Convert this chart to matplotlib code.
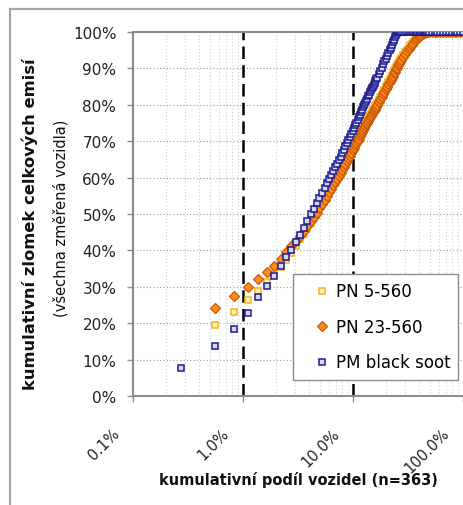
import matplotlib
matplotlib.use("Agg")
import matplotlib.pyplot as plt
from matplotlib.ticker import FixedLocator, NullFormatter, LogLocator
from matplotlib.transforms import ScaledTranslation
from matplotlib.patches import Rectangle

# ---------------- data ----------------
n_vehicles = 363

# vehicle rank (sorted by emission, descending) at which values were read
rank_pm = (list(range(1, 61)) + list(range(62, 101, 2)) + list(range(104, 173, 4))
           + [180, 190, 200, 212, 225, 240, 255, 270, 287, 305, 323, 342, 363])
rank_pn = rank_pm[1:]

pm_black_soot = [
    7.7, 13.7, 18.4, 22.8, 27.2, 30.2, 33.0, 35.7, 38.1, 40.1,
    42.2, 44.2, 46.2, 48.1, 49.9, 51.5, 53.0, 54.5, 55.9, 57.1,
    58.4, 59.6, 60.7, 61.7, 62.8, 63.8, 64.8, 65.7, 66.7, 67.7,
    68.6, 69.5, 70.3, 71.2, 72.1, 72.9, 73.6, 74.4, 75.1, 75.9,
    76.6, 77.2, 78.0, 78.6, 79.3, 79.9, 80.5, 81.1, 81.7, 82.3,
    82.8, 83.4, 84.0, 84.5, 85.0, 85.5, 86.1, 86.5, 87.0, 87.5,
    # 62..100 step 2
    88.5, 89.4, 90.2, 91.1, 92.0, 92.7, 93.5, 94.3, 95.0, 95.7,
    96.5, 97.2, 97.8, 98.5, 99.1, 99.7, 100, 100, 100, 100,
    # 104..172 step 4
    100, 100, 100, 100, 100, 100, 100, 100, 100, 100,
    100, 100, 100, 100, 100, 100, 100, 100,
    # tail
    100, 100, 100, 100, 100, 100, 100, 100, 100, 100, 100, 100, 100,
]

pn_23_560 = [
    24.2, 27.5, 29.9, 32.1, 34.1, 35.7, 37.6, 39.6, 41.2,
    42.6, 44.0, 45.4, 46.8, 48.1, 49.3, 50.4, 51.6, 52.8, 53.9,
    54.9, 56.0, 56.9, 57.9, 58.8, 59.7, 60.5, 61.3, 62.1, 62.9,
    63.7, 64.5, 65.3, 66.0, 66.8, 67.5, 68.2, 68.9, 69.5, 70.1,
    70.7, 71.3, 71.9, 72.5, 73.0, 73.6, 74.1, 74.6, 75.1, 75.6,
    76.1, 76.6, 77.0, 77.4, 77.9, 78.3, 78.7, 79.1, 79.5, 79.9,
    # 62..100 step 2
    80.7, 81.5, 82.2, 82.9, 83.6, 84.3, 84.9, 85.6, 86.2, 86.8,
    87.4, 88.0, 88.6, 89.1, 89.7, 90.2, 90.8, 91.3, 91.8, 92.3,
    # 104..172 step 4
    93.1, 93.9, 94.7, 95.3, 95.9, 96.5, 97.0, 97.5, 98.0, 98.4,
    98.7, 99.0, 99.3, 99.5, 99.7, 99.8, 99.9, 100,
    # tail
    100, 100, 100, 100, 100, 100, 100, 100, 100, 100, 100, 100, 100,
]

pn_5_560 = [
    19.5, 23.1, 26.4, 28.8, 31.3, 33.4, 35.5, 37.5, 39.4,
    41.2, 43.0, 44.6, 46.1, 47.5, 48.9, 50.2, 51.5, 52.7, 53.9,
    55.5, 56.6, 57.5, 58.5, 59.4, 60.3, 61.1, 61.9, 62.7, 63.5,
    64.3, 65.1, 65.9, 66.6, 67.4, 68.1, 68.8, 69.5, 70.1, 70.7,
    71.3, 71.9, 72.5, 73.1, 73.6, 74.2, 74.7, 75.2, 75.7, 76.2,
    76.7, 77.2, 77.6, 78.0, 78.5, 78.9, 79.3, 79.7, 80.1, 80.5,
    # 62..100 step 2
    81.3, 82.1, 82.8, 83.5, 84.2, 84.9, 85.5, 86.2, 86.8, 87.4,
    88.0, 88.6, 89.2, 89.7, 90.3, 90.8, 91.3, 91.8, 92.3, 92.8,
    # 104..172 step 4
    93.6, 94.4, 95.1, 95.7, 96.3, 96.8, 97.3, 97.8, 98.2, 98.6,
    98.9, 99.2, 99.4, 99.6, 99.8, 99.9, 100, 100,
    # tail
    100, 100, 100, 100, 100, 100, 100, 100, 100, 100, 100, 100, 100,
]

series_labels = ["PN 5-560", "PN 23-560", "PM black soot"]
x_ticks = [0.1, 1, 10, 100]
x_tick_labels = ["0.1%", "1.0%", "10.0%", "100.0%"]
y_ticks = list(range(0, 101, 10))
y_tick_labels = [f"{v}%" for v in y_ticks]
ref_lines = [1, 10]

share_pm = [r / n_vehicles * 100 for r in rank_pm]
share_pn = [r / n_vehicles * 100 for r in rank_pn]

# ---------------- figure ----------------
W, H = 463, 506
fig = plt.figure(figsize=(W / 100, H / 100), dpi=100)
fig.patch.set_facecolor("white")
# chart-area border
fig.patches.append(Rectangle((10 / W, -0.05), 1.2, (H - 10) / H + 0.05,
                             transform=fig.transFigure, fill=False,
                             edgecolor="#a6a6a6", linewidth=1.6))

ax = fig.add_axes([133 / W, 109 / H, 330 / W, 364 / H])
ax.set_xscale("log")
ax.set_xlim(0.1, 100)
ax.set_ylim(0, 100)

# gridlines
ax.xaxis.set_minor_locator(LogLocator(base=10, subs=range(2, 10)))
ax.xaxis.set_minor_formatter(NullFormatter())
ax.grid(which="minor", axis="x", linestyle=(0, (1, 2)), color="#cfcfcf", linewidth=0.8)
ax.grid(which="major", axis="y", linestyle=(0, (1, 2)), color="#9a9a9a", linewidth=0.8)
ax.set_axisbelow(True)

for xv in ref_lines:
    ax.axvline(xv, color="black", linestyle=(0, (5, 2.5)), linewidth=1.8, zorder=2)

ax.plot(share_pn, pn_5_560, linestyle="none", marker="s", markersize=3.9,
        markerfacecolor="#fff0c0", markeredgecolor="#ffb21a", markeredgewidth=1.1,
        label=series_labels[0], zorder=3)
ax.plot(share_pn, pn_23_560, linestyle="none", marker="D", markersize=5.0,
        markerfacecolor="#ff8c1a", markeredgecolor="#c85a0a", markeredgewidth=0.9,
        label=series_labels[1], zorder=4)
ax.plot(share_pm, pm_black_soot, linestyle="none", marker="s", markersize=3.9,
        markerfacecolor="#d8d8f4", markeredgecolor="#1c1c90", markeredgewidth=1.1,
        label=series_labels[2], zorder=5)

# axes styling
for side in ["left", "bottom", "top"]:
    ax.spines[side].set_color("#8c8c8c")
    ax.spines[side].set_linewidth(1.5)
ax.spines["right"].set_visible(False)

ax.xaxis.set_major_locator(FixedLocator(x_ticks))
ax.set_xticklabels(x_tick_labels)
ax.yaxis.set_major_locator(FixedLocator(y_ticks))
ax.set_yticklabels(y_tick_labels)
ax.tick_params(axis="y", which="major", length=4, width=1, color="#8c8c8c",
               direction="out", pad=8, labelsize=11, labelcolor="#222222")
ax.tick_params(axis="x", which="major", length=4, width=1, color="#8c8c8c",
               direction="out", pad=21, labelsize=10.5, labelcolor="#222222")
ax.tick_params(axis="x", which="minor", length=0)

offset = ScaledTranslation(-16 / 100, 0, fig.dpi_scale_trans)
for lab in ax.get_xticklabels():
    lab.set_rotation(45)
    lab.set_rotation_mode("anchor")
    lab.set_ha("right")
    lab.set_va("center")
    lab.set_transform(lab.get_transform() + offset)

# axis titles
fig.text(30 / W, (H - 224) / H, "kumulativní zlomek celkových emisí",
         rotation=90, ha="center", va="center", fontsize=11.8, fontweight="bold",
         color="#111111")
fig.text(61 / W, (H - 218) / H, "(všechna změřená vozidla)",
         rotation=90, ha="center", va="center", fontsize=10.5, color="#111111")
fig.text(298 / W, (H - 480) / H, "kumulativní podíl vozidel (n=363)",
         ha="center", va="center", fontsize=10.5, fontweight="bold", color="#111111")

leg = ax.legend(loc="upper left", bbox_to_anchor=((293 - 133) / 330, (397 - 275) / 364),
                fontsize=12, frameon=True, fancybox=False, edgecolor="#8c8c8c",
                framealpha=1, borderpad=0.5, labelspacing=1.05, handlelength=2.5,
                handletextpad=-0.45, borderaxespad=0, markerscale=1.0)
leg.get_frame().set_linewidth(1.0)

fig.savefig("out.png", dpi=100)
